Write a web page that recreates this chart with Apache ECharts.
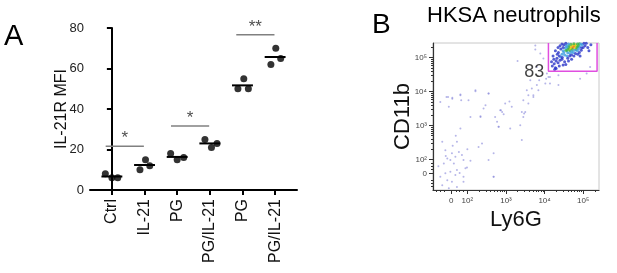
<!DOCTYPE html>
<html>
<head>
<meta charset="utf-8">
<script src="https://cdn.jsdelivr.net/npm/echarts@6/dist/echarts.min.js"></script>
<style>
  html, body { margin: 0; padding: 0; background: #fff; }
  #chart { width: 617px; height: 273px; }
</style>
</head>
<body>
<div id="chart"></div>
<script>
// panel A
const categories = ['Ctrl', 'IL-21', 'PG', 'PG/IL-21', 'PG', 'PG/IL-21'];
const mfiValues = [[8, 6, 6], [10, 15, 12], [18, 15, 16], [25, 21, 23], [50, 55, 50], [62, 70, 65]];
const jitter = [[-0.2, 0, 0.18], [-0.14, 0.03, 0.16], [-0.2, 0, 0.2], [-0.15, 0.05, 0.22], [-0.14, 0.04, 0.18], [-0.13, 0.02, 0.17]];
const sigPairs = [[0, 1], [2, 3], [4, 5]];
const sigY = [21.6, 31.6, 76.7];
const sigLabels = ['*', '*', '**'];

// panel B (axis units = decades, biexponential display)
const flowTicks = [1.58, 2, 3, 4, 5];
const flowTickLabels = ['0', '10²', '10³', '10⁴', '10⁵'];
const flowSparse = [
  [3.30, 4.90], [2.21, 4.01], [2.55, 3.94], [1.82, 3.91], [1.46, 3.84], [1.61, 3.82], [1.84, 3.74],
  [2.03, 3.74], [1.30, 3.69], [3.09, 3.71], [2.98, 3.65], [2.47, 3.60], [1.52, 3.55], [2.87, 3.45],
  [2.94, 3.33], [2.42, 3.50], [2.90, 3.40], [2.72, 3.25], [2.08, 3.25], [2.34, 3.27], [2.77, 3.11],
  [3.11, 2.91], [2.81, 2.96], [1.82, 2.91], [1.35, 2.52], [1.73, 2.52], [2.38, 2.47], [1.43, 2.27],
  [1.60, 2.18], [1.78, 2.22], [1.86, 2.13], [1.69, 2.08], [1.48, 2.03], [1.56, 1.98], [1.90, 1.98],
  [2.08, 1.96], [1.39, 1.88], [1.65, 1.88], [1.95, 1.74], [1.99, 1.76], [1.73, 1.69], [1.56, 1.64],
  [1.43, 1.59], [1.69, 1.54], [1.90, 1.49], [1.30, 1.49], [1.48, 1.39], [1.60, 1.34], [1.90, 1.34],
  [1.35, 1.24], [1.73, 1.19], [1.52, 1.15], [2.68, 1.49], [2.55, 1.98], [3.67, 4.09], [3.58, 3.89],
  [3.71, 3.84], [3.45, 3.74], [3.80, 4.19], [3.86, 4.33], [4.04, 4.38], [4.14, 4.43], [4.36, 4.19],
  [3.54, 4.04], [3.41, 3.40], [3.45, 3.25], [3.37, 3.01], [3.47, 3.35], [3.15, 3.55], [3.41, 2.57],
  [3.76, 5.24], [2.34, 3.25], [2.85, 3.45], [2.81, 2.96], [2.68, 2.18], [2.68, 1.49], [2.29, 2.37],
  [2.21, 4.04], [2.55, 3.94], [1.82, 3.89], [1.61, 3.79], [1.50, 3.84], [3.76, 5.36], [3.89, 5.12],
  [3.97, 4.97], [4.06, 4.53], [4.10, 4.43], [4.02, 4.24], [3.84, 4.04], [3.71, 3.89], [3.58, 3.65],
  [3.50, 3.40], [4.14, 4.24], [5.09, 4.53], [5.18, 4.72], [4.92, 4.38], [4.36, 4.48], [3.80, 4.72],
  [3.63, 4.33], [1.62, 2.40], [1.44, 2.10], [1.80, 1.60], [1.25, 1.80], [2.00, 2.30], [1.70, 2.70]
];
// [x, y, density level 0..4]
const flowCluster = [
  [4.72, 5.32, 4], [4.76, 5.34, 4], [4.70, 5.29, 4], [4.78, 5.36, 4], [4.74, 5.30, 4],
  [4.66, 5.30, 3], [4.80, 5.38, 3], [4.68, 5.26, 3], [4.82, 5.34, 3], [4.75, 5.38, 3], [4.70, 5.35, 3],
  [4.64, 5.24, 3], [4.79, 5.28, 3],
  [4.60, 5.25, 2], [4.62, 5.30, 2], [4.85, 5.40, 2], [4.88, 5.36, 2], [4.58, 5.20, 2], [4.66, 5.20, 2],
  [4.72, 5.24, 2], [4.84, 5.30, 2], [4.90, 5.41, 2], [4.55, 5.22, 2], [4.63, 5.35, 2], [4.76, 5.41, 2],
  [4.68, 5.39, 2], [4.82, 5.24, 2], [4.86, 5.32, 2],
  [4.50, 5.15, 1], [4.54, 5.28, 1], [4.58, 5.32, 1], [4.52, 5.08, 1], [4.60, 5.14, 1], [4.70, 5.18, 1],
  [4.78, 5.22, 1], [4.92, 5.32, 1], [4.94, 5.40, 1], [4.88, 5.26, 1], [4.45, 5.10, 1], [4.56, 5.36, 1],
  [4.62, 5.40, 1], [4.48, 5.20, 1], [4.74, 5.15, 1], [4.98, 5.38, 1], [4.66, 5.12, 1], [4.42, 5.02, 1],
  [4.85, 5.20, 1], [4.58, 5.05, 1],
  [4.20, 4.75, 0], [4.25, 4.82, 0], [4.30, 4.90, 0], [4.28, 4.70, 0], [4.35, 4.85, 0], [4.32, 4.98, 0],
  [4.38, 5.05, 0], [4.40, 4.92, 0], [4.36, 5.15, 0], [4.42, 5.25, 0], [4.45, 4.95, 0], [4.48, 5.30, 0],
  [4.50, 5.38, 0], [4.46, 5.00, 0], [4.52, 4.88, 0], [4.55, 5.42, 0], [4.40, 5.35, 0], [4.33, 5.10, 0],
  [4.24, 4.95, 0], [4.22, 5.05, 0], [4.60, 4.98, 0], [4.65, 5.05, 0], [4.70, 5.08, 0], [4.80, 5.12, 0],
  [4.90, 5.15, 0], [4.95, 5.22, 0], [5.00, 5.30, 0], [5.05, 5.35, 0], [5.08, 5.42, 0], [5.02, 5.42, 0],
  [4.96, 5.28, 0], [4.86, 5.10, 0], [4.76, 5.05, 0], [4.62, 4.90, 0], [4.55, 4.80, 0], [4.48, 4.78, 0],
  [4.38, 4.75, 0], [4.30, 4.68, 0], [5.12, 5.30, 0], [5.15, 5.20, 0], [4.92, 5.05, 0], [4.70, 4.95, 0],
  [4.45, 5.40, 0], [4.35, 5.30, 0], [4.28, 5.20, 0], [5.20, 5.38, 0], [4.18, 4.88, 0], [4.26, 4.65, 0]
];
const gate = [[4.10, 5.43], [4.10, 4.60], [5.36, 4.60], [5.36, 5.43]];
const gateLabel = { x: 3.73, y: 4.58, text: '83' };

const densityColors = ['#2a36c8', '#3c9ee0', '#3cb44a', '#e6d21e', '#e8742a'];

const minorTicks = [1.2, 1.3, 1.4, 1.7, 1.8, 1.9];
for (let k = 2; k <= 4; k++) {
  for (let m = 2; m <= 9; m++) minorTicks.push(+(k + Math.log10(m)).toFixed(3));
}
minorTicks.push(5.3);

const chart = echarts.init(document.getElementById('chart'));

const series = [];
// mean bars
mfiValues.forEach((vals, i) => {
  const mean = vals.reduce((a, b) => a + b, 0) / vals.length;
  series.push({
    type: 'line', xAxisIndex: 0, yAxisIndex: 0, silent: true, symbol: 'none',
    lineStyle: { color: '#000', width: 2 },
    data: [[i - 0.32, mean], [i + 0.32, mean]]
  });
});
// dots
series.push({
  type: 'scatter', xAxisIndex: 0, yAxisIndex: 0, symbolSize: 7,
  itemStyle: { color: '#000' },
  data: mfiValues.flatMap((vals, i) => vals.map((v, j) => [i + jitter[i][j], v]))
});
// significance brackets
sigPairs.forEach((p, i) => {
  series.push({
    type: 'line', xAxisIndex: 0, yAxisIndex: 0, silent: true, symbol: 'none',
    lineStyle: { color: '#808080', width: 1.5 },
    data: [[p[0] - 0.19, sigY[i]], [p[1] - 0.02, sigY[i]]]
  });
});
series.push({
  type: 'scatter', xAxisIndex: 0, yAxisIndex: 0, symbolSize: 0, silent: true,
  label: {
    show: true, position: 'top', distance: -1, color: '#222', fontSize: 17,
    fontFamily: 'Liberation Sans', formatter: p => sigLabels[p.dataIndex]
  },
  data: sigPairs.map((p, i) => [(p[0] - 0.19 + p[1] - 0.02) / 2, sigY[i]])
});

// flow panel
series.push({
  type: 'scatter', xAxisIndex: 1, yAxisIndex: 2, symbolSize: 2, silent: true,
  itemStyle: { color: '#8585d8', opacity: 0.6 },
  data: flowSparse
});
series.push({
  type: 'scatter', xAxisIndex: 1, yAxisIndex: 2, symbolSize: 3, silent: true,
  itemStyle: { color: p => densityColors[p.data[2]] },
  data: flowCluster
});
series.push({
  type: 'line', xAxisIndex: 1, yAxisIndex: 2, symbol: 'none', silent: true,
  lineStyle: { color: '#e04ee0', width: 1.5 },
  data: gate
});
series.push({
  type: 'scatter', xAxisIndex: 1, yAxisIndex: 2, symbolSize: 0, silent: true,
  label: {
    show: true, position: 'inside', color: '#111', fontSize: 18,
    fontFamily: 'Liberation Sans', formatter: gateLabel.text
  },
  data: [[gateLabel.x, gateLabel.y]]
});

const flowLabel = v => flowTickLabels[flowTicks.indexOf(v)];

chart.setOption({
  animation: false,
  textStyle: { fontFamily: 'Liberation Sans' },
  title: [
    { text: 'A', left: -1, top: 17, textStyle: { fontSize: 29, fontWeight: 'normal', color: '#000' } },
    { text: 'B', left: 367, top: 6, textStyle: { fontSize: 28, fontWeight: 'normal', color: '#000' } },
    { text: 'HKSA neutrophils', left: 422, top: 0, textStyle: { fontSize: 22, fontWeight: 'normal', color: '#000' } }
  ],
  grid: [
    { left: 90, top: 28, width: 207, height: 162, outerBoundsMode: 'none' },
    { left: 433, top: 43, width: 166, height: 147, outerBoundsMode: 'none', show: true, borderColor: '#c8c8c8', borderWidth: 1 }
  ],
  xAxis: [
    {
      type: 'value', gridIndex: 0, min: -0.67, max: 5.67,
      splitLine: { show: false },
      axisLine: { lineStyle: { color: '#000', width: 2 } },
      axisTick: { customValues: [0, 1, 2, 3, 4, 5], length: 5, lineStyle: { color: '#000', width: 2 } },
      axisLabel: {
        customValues: [0, 1, 2, 3, 4, 5], rotate: 90, fontSize: 16, color: '#111', margin: 9,
        formatter: v => categories[Math.round(v)]
      }
    },
    {
      type: 'value', gridIndex: 1, min: 1.11, max: 5.41,
      name: 'Ly6G', nameLocation: 'middle', nameGap: 19, nameMoveOverlap: false,
      nameTextStyle: { fontSize: 22, color: '#111' },
      splitLine: { show: false },
      axisLine: { lineStyle: { color: '#333', width: 1.2 } },
      axisTick: { customValues: flowTicks, length: 4, lineStyle: { color: '#333' } },
      axisLabel: { customValues: flowTicks, fontSize: 8, color: '#444', margin: 7, formatter: flowLabel }
    },
    {
      type: 'value', gridIndex: 1, min: 1.11, max: 5.41, position: 'bottom',
      splitLine: { show: false }, axisLine: { show: false }, axisLabel: { show: false },
      axisTick: { customValues: minorTicks, length: 2, lineStyle: { color: '#333' } }
    }
  ],
  yAxis: [
    {
      type: 'value', gridIndex: 0, min: 0, max: 80, interval: 20,
      name: 'IL-21R MFI', nameLocation: 'middle', nameGap: 20, nameMoveOverlap: false,
      nameTextStyle: { fontSize: 16, color: '#111' },
      splitLine: { show: false },
      axisLine: { show: true, lineStyle: { color: '#000', width: 2 } },
      axisTick: { show: true, length: 5, lineStyle: { color: '#000', width: 2 } },
      axisLabel: { fontSize: 13, color: '#222', margin: 6 }
    },
    {
      type: 'value', gridIndex: 1, min: 1.10, max: 5.43, position: 'left',
      splitLine: { show: false }, axisLine: { show: false }, axisLabel: { show: false },
      axisTick: { show: true, customValues: minorTicks, length: 2, lineStyle: { color: '#333' } }
    },
    {
      type: 'value', gridIndex: 1, min: 1.10, max: 5.43, position: 'left',
      name: 'CD11b', nameLocation: 'middle', nameGap: 19, nameMoveOverlap: false,
      nameTextStyle: { fontSize: 22, color: '#111' },
      splitLine: { show: false },
      axisLine: { show: true, lineStyle: { color: '#333', width: 1.2 } },
      axisTick: { show: true, customValues: flowTicks, length: 4, lineStyle: { color: '#333' } },
      axisLabel: { customValues: flowTicks, fontSize: 8, color: '#444', margin: 6, formatter: flowLabel }
    }
  ],
  series: series
});
</script>
</body>
</html>
